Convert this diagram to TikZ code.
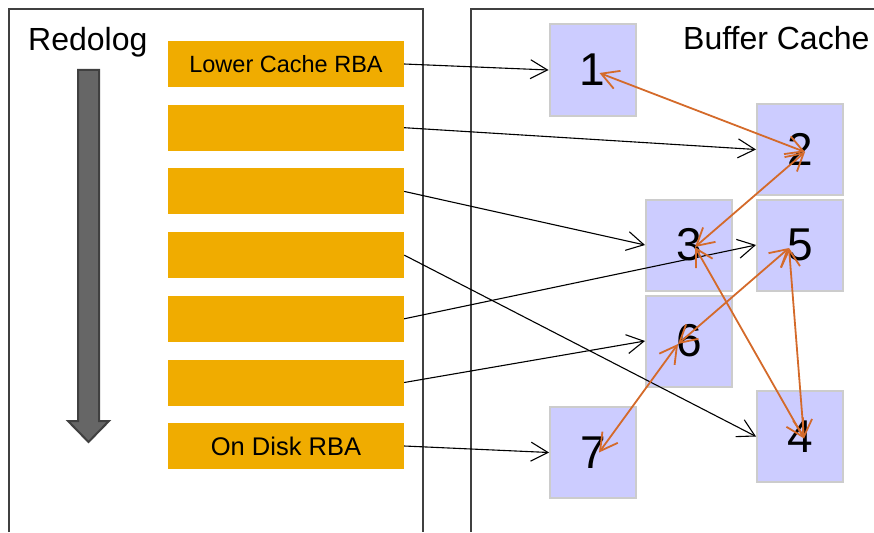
\documentclass[tikz,border=0pt]{standalone}
\usepackage{fontspec}
\setmainfont{Liberation Sans}
\usetikzlibrary{arrows.meta,positioning}
\definecolor{redobar}{RGB}{240,172,0}
\definecolor{bufblue}{RGB}{204,204,255}
\definecolor{bufedge}{RGB}{204,204,204}
\definecolor{linkorange}{RGB}{212,106,42}
\definecolor{panelgray}{RGB}{64,64,64}

\begin{document}
\begin{tikzpicture}[x=1pt, y=-1pt,
    redo/.style={fill=redobar, minimum width=236pt, minimum height=46pt, inner sep=0pt},
    buf/.style={draw=bufedge, line width=2pt, fill=bufblue, minimum width=86pt,
                minimum height=91pt, inner sep=0pt, font=\fontsize{46}{46}\selectfont},
    arr/.style={-{Straight Barb[length=17pt, width=19pt]}, line width=1.1pt},
    link/.style={{Straight Barb[length=17pt, width=19pt]}-{Straight Barb[length=17pt, width=19pt]},
                 line width=1.8pt, linkorange},
    panel/.style={panelgray, line width=1.5pt},
]
\useasboundingbox (0,0) rectangle (874,532);

% Panels
\draw[panel] (9,532) -- (9,9) -- (423,9) -- (423,532);
\draw[panel] (471,532) |- (874,9);
\node[anchor=base west, inner sep=0pt, font=\fontsize{32}{32}\selectfont] (redolog) at (28,51) {Redolog};
\node[anchor=base west, inner sep=0pt, font=\fontsize{32}{32}\selectfont] (cache) at (683,50) {Buffer Cache};

% Direction of the redo log
\draw[draw=panelgray, line width=2pt, fill=black!60, line join=miter]
    (78,70) -- (99,70) -- (99,421) -- (109,421) -- (88.5,442) -- (68,421) -- (78,421) -- cycle;

% Redo records
\node[redo, font=\fontsize{23.5}{23.5}\selectfont] (r1) at (286,64) {Lower Cache RBA};
\foreach \i/\y in {2/127.7, 3/191.4, 4/255.1, 5/318.8, 6/382.5} {
    \node[redo] (r\i) at (286,\y) {};
}
\node[redo, font=\fontsize{25.5}{25.5}\selectfont] (r7) at (286,446) {On Disk RBA};

% Buffers
\node[buf] (b1) at (592.5,70) {1};
\node[buf] (b2) at (800,149.5) {2};
\node[buf] (b3) at (689,245) {3};
\node[buf] (b5) at (800,245) {5};
\node[buf] (b6) at (689,341) {6};
\node[buf] (b4) at (800,436.5) {4};
\node[buf] (b7) at (593,452.5) {7};

% Records point to buffers
\draw[arr] (r1.east) -- (b1.west);
\draw[arr] (r2.east) -- (b2.west);
\draw[arr] (r3.east) -- (b3.west);
\draw[arr] (r4.east) -- (b4.west);
\draw[arr] (r5.east) -- (b5.west);
\draw[arr] (r6.east) -- (b6.west);
\draw[arr] (r7.east) -- (b7.west);

% Checkpoint queue links
\coordinate (d1) at ([shift={(7,3)}]b1.center);
\coordinate (d2) at ([shift={(5,2.5)}]b2.center);
\coordinate (d3) at ([shift={(6,2)}]b3.center);
\coordinate (d4) at ([shift={(4,2)}]b4.center);
\coordinate (d5) at ([shift={(-11,3)}]b5.center);
\coordinate (d6) at ([shift={(-11,3)}]b6.center);
\coordinate (d7) at ([shift={(6,0)}]b7.center);
\draw[link] (d1) -- (d2);
\draw[link] (d2) -- (d3);
\draw[link] (d3) -- (d4);
\draw[link] (d5) -- (d4);
\draw[link] (d5) -- (d6);
\draw[link] (d6) -- (d7);
\end{tikzpicture}
\end{document}
